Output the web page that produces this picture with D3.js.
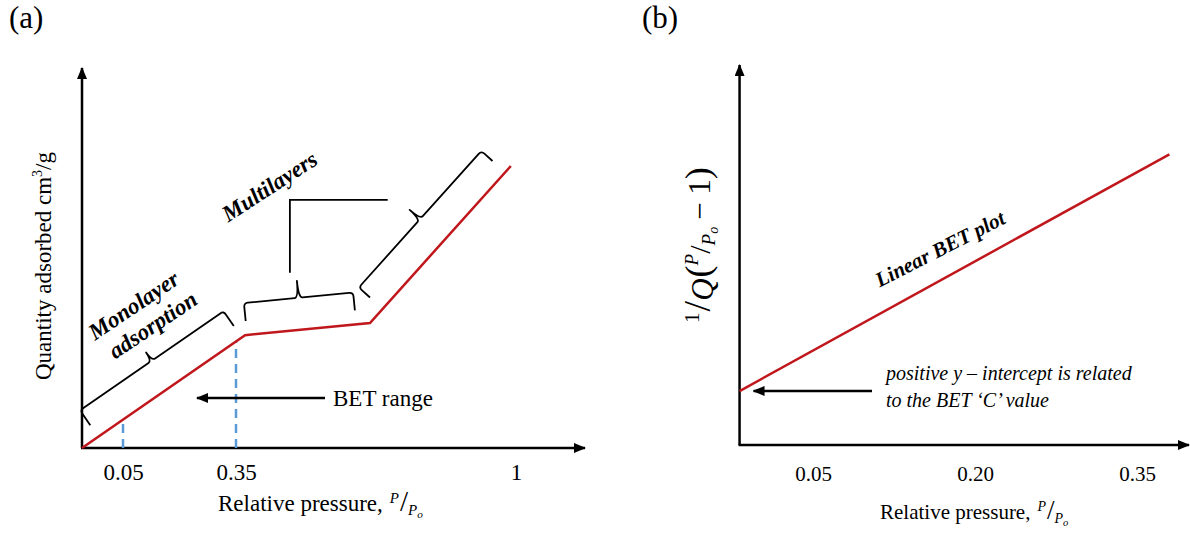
<!DOCTYPE html>
<html><head><meta charset="utf-8">
<script src="https://cdn.jsdelivr.net/npm/d3@7"></script>
<style>body{margin:0;background:#fff} svg{display:block}</style>
</head><body>
<svg id="c" width="1190" height="533"></svg>
<script>
// ---------- DATA ----------
// (a) Isotherm (schematic), relative pressure vs quantity adsorbed (arb. units)
const isoX = [0, 0.371, 0.661, 0.988];
const isoY = [0, 29.7, 32.9, 74.2];
const isoTickValues = [0.05, 0.35, 1];
const isoTickLabels = ["0.05", "0.35", "1"];
const betRangeMarks = [0.05, 0.35];
// braces along isotherm segments: segment index, start / end fraction
const braceSeg = [0, 1, 2];
const braceT0 = [0.10, 0.016, 0.09];
const braceT1 = [0.98, 0.89, 0.96];
// (b) Linear BET plot
const betX = [-0.018, 0.38];
const betY = [14.2, 76.5];
const betTickValues = [0.05, 0.20, 0.35];
const betTickLabels = ["0.05", "0.20", "0.35"];

// ---------- STYLE ----------
const RED = "#c0171d", BLUE = "#5b9bd5", INK = "#000";
const SERIF = "'Liberation Serif','Times New Roman',serif";
const braceOffset = [32, 32, 32], braceHook = [18, 18, 15], braceTip = [10, 17, 14];

const svg = d3.select("#c");
const defs = svg.append("defs");
defs.append("marker").attr("id", "ah").attr("viewBox", "0 0 12 10")
  .attr("refX", 11).attr("refY", 5).attr("markerWidth", 12).attr("markerHeight", 10)
  .attr("markerUnits", "userSpaceOnUse").attr("orient", "auto")
  .append("path").attr("d", "M0,0 L12,5 L0,10 Z").attr("fill", INK);

// ---------- PANEL A ----------
const xA = d3.scaleLinear().domain([0, 0.05, 0.35, 1]).range([82, 123, 236, 516]);
const yA = d3.scaleLinear().domain([0, 100]).range([448, 68]);
const gA = svg.append("g");

gA.append("text").attr("x", 9).attr("y", 28).attr("font-family", SERIF).attr("font-size", 31).text("(a)");

// axes
gA.append("line").attr("x1", xA(0)).attr("y1", yA(0)).attr("x2", xA(0)).attr("y2", yA(100))
  .attr("stroke", INK).attr("stroke-width", 2.5).attr("marker-end", "url(#ah)");
gA.append("line").attr("x1", xA(0) - 1).attr("y1", yA(0)).attr("x2", 585).attr("y2", yA(0))
  .attr("stroke", INK).attr("stroke-width", 2.5).attr("marker-end", "url(#ah)");

const axA = d3.axisBottom(xA).tickValues(isoTickValues).tickSize(0)
  .tickFormat((d, i) => isoTickLabels[i]);
const axAg = gA.append("g").attr("transform", `translate(0,${yA(0)})`).call(axA);
axAg.select(".domain").remove();
axAg.selectAll("text").attr("y", 32).attr("dy", 0).attr("font-family", SERIF)
  .attr("font-size", 23).attr("fill", INK);

// isotherm
const isoPts = isoX.map((x, i) => [xA(x), yA(isoY[i])]);
function yOnPoly(pts, px) {
  for (let i = 0; i < pts.length - 1; i++) {
    const [x0, y0] = pts[i], [x1, y1] = pts[i + 1];
    if (px >= x0 && px <= x1) return y0 + (y1 - y0) * (px - x0) / (x1 - x0);
  }
  return pts[pts.length - 1][1];
}
// dashed BET range marks
gA.selectAll(".dash").data(betRangeMarks).enter().append("line")
  .attr("x1", d => xA(d)).attr("x2", d => xA(d))
  .attr("y1", yA(0)).attr("y2", d => yOnPoly(isoPts, xA(d)))
  .attr("stroke", BLUE).attr("stroke-width", 2.5).attr("stroke-dasharray", "9,6");

gA.append("path").datum(isoX.map((x, i) => [x, isoY[i]]))
  .attr("d", d3.line().x(d => xA(d[0])).y(d => yA(d[1])))
  .attr("fill", "none").attr("stroke", RED).attr("stroke-width", 2.5);

// braces
function braceGeom(p0, p1, o, h, t) {
  const dx = p1[0] - p0[0], dy = p1[1] - p0[1], L = Math.hypot(dx, dy);
  const d = [dx / L, dy / L], n = [d[1], -d[0]];
  const P = (b, a, k) => [b[0] + a[0] * k, b[1] + a[1] * k];
  const A = P(p0, n, o), B = P(p1, n, o), M = [(A[0] + B[0]) / 2, (A[1] + B[1]) / 2];
  const r = 4;
  const a0 = P(A, n, -h), an = P(A, n, -r), a1 = P(A, d, r);
  const m0 = P(M, d, -r), m1 = P(M, d, r), T = P(M, n, t);
  const b1 = P(B, d, -r), bn = P(B, n, -r), b0 = P(B, n, -h);
  const f = p => p[0].toFixed(1) + "," + p[1].toFixed(1);
  const path = `M${f(a0)}L${f(an)}Q${f(A)} ${f(a1)}L${f(m0)}Q${f(M)} ${f(T)}Q${f(M)} ${f(m1)}L${f(b1)}Q${f(B)} ${f(bn)}L${f(b0)}`;
  return { path, T };
}
const tips = [];
braceSeg.forEach((s, i) => {
  const p = isoPts[s], q = isoPts[s + 1];
  const lerp = t => [p[0] + (q[0] - p[0]) * t, p[1] + (q[1] - p[1]) * t];
  const g = braceGeom(lerp(braceT0[i]), lerp(braceT1[i]), braceOffset[i], braceHook[i], braceTip[i]);
  tips.push(g.T);
  gA.append("path").attr("d", g.path).attr("fill", "none").attr("stroke", INK)
    .attr("stroke-width", 1.8).attr("stroke-linejoin", "round");
});
// connector between the two multilayer braces
{
  const tL = tips[1], tU = tips[2];
  const lvl = tU[1] - 10;
  gA.append("path").attr("d", `M${tL[0] - 7},${tL[1] - 8}V${lvl}H${tU[0] - 22}`)
    .attr("fill", "none").attr("stroke", INK).attr("stroke-width", 1.8);
}

// labels
const bi = sel => sel.attr("font-family", SERIF).attr("font-weight", "bold").attr("font-style", "italic");
const mono = gA.append("g").attr("transform", "translate(134,306) rotate(-34)");
bi(mono.append("text")).attr("x", 0).attr("y", 7).attr("text-anchor", "middle").attr("font-size", 23).text("Monolayer");
bi(mono.append("text")).attr("x", 5).attr("y", 34).attr("text-anchor", "middle").attr("font-size", 23).text("adsorption");
const multi = gA.append("g").attr("transform", "translate(270,187) rotate(-33)");
bi(multi.append("text")).attr("x", 0).attr("y", 7).attr("text-anchor", "middle").attr("font-size", 23).text("Multilayers");

// BET range arrow
gA.append("line").attr("x1", 325).attr("y1", 398).attr("x2", 197).attr("y2", 398)
  .attr("stroke", INK).attr("stroke-width", 2.5).attr("marker-end", "url(#ah)");
gA.append("text").attr("x", 333).attr("y", 406).attr("font-family", SERIF).attr("font-size", 23).text("BET range");

// axis titles
gA.append("text").attr("transform", "translate(51,266) rotate(-90)").attr("text-anchor", "middle")
  .attr("font-family", SERIF).attr("font-size", 23)
  .call(t => { t.append("tspan").text("Quantity adsorbed cm");
               t.append("tspan").attr("font-size", 14).attr("dy", -9).text("3");
               t.append("tspan").attr("dy", 9).text("/g"); });

function ppo(t, big, sup) {
  t.append("tspan").attr("dx", 7).attr("dy", -8).attr("font-size", sup).attr("font-style", "italic").text("P");
  t.append("tspan").attr("dx", 1).attr("dy", 8).attr("font-size", big).text("/");
  t.append("tspan").attr("dx", 0).attr("dy", 4).attr("font-size", sup).attr("font-style", "italic").text("P");
  t.append("tspan").attr("dy", 3).attr("font-size", sup * 0.75).attr("font-style", "italic").text("o");
}
gA.append("text").attr("x", 218).attr("y", 511).attr("font-family", SERIF).attr("font-size", 23)
  .call(t => { t.append("tspan").text("Relative pressure,"); ppo(t, 29, 15); });

// ---------- PANEL B ----------
const xB = d3.scaleLinear().domain([0.05, 0.35]).range([813, 1137]);
const yB = d3.scaleLinear().domain([0, 100]).range([445, 65]);
const gB = svg.append("g");
gB.append("text").attr("x", 642).attr("y", 28).attr("font-family", SERIF).attr("font-size", 31).text("(b)");

const x0B = xB(betX[0]);
gB.append("line").attr("x1", x0B).attr("y1", yB(0)).attr("x2", x0B).attr("y2", yB(100))
  .attr("stroke", INK).attr("stroke-width", 2.5).attr("marker-end", "url(#ah)");
gB.append("line").attr("x1", x0B - 1).attr("y1", yB(0)).attr("x2", 1189).attr("y2", yB(0))
  .attr("stroke", INK).attr("stroke-width", 2.5).attr("marker-end", "url(#ah)");

const axB = d3.axisBottom(xB).tickValues(betTickValues).tickSize(0)
  .tickFormat((d, i) => betTickLabels[i]);
const axBg = gB.append("g").attr("transform", `translate(0,${yB(0)})`).call(axB);
axBg.select(".domain").remove();
axBg.selectAll("text").attr("y", 36).attr("dy", 0).attr("font-family", SERIF)
  .attr("font-size", 21).attr("fill", INK);

gB.append("path").datum(betX.map((x, i) => [x, betY[i]]))
  .attr("d", d3.line().x(d => xB(d[0])).y(d => yB(d[1])))
  .attr("fill", "none").attr("stroke", RED).attr("stroke-width", 2.5);

const lin = gB.append("g").attr("transform", "translate(940,249) rotate(-27)");
bi(lin.append("text")).attr("x", 0).attr("y", 7).attr("text-anchor", "middle").attr("font-size", 21).text("Linear BET plot");

// intercept arrow
const yi = yB(betY[0]);
gB.append("line").attr("x1", 872).attr("y1", yi).attr("x2", x0B + 14).attr("y2", yi)
  .attr("stroke", INK).attr("stroke-width", 2.5).attr("marker-end", "url(#ah)");
gB.append("text").attr("x", 886).attr("y", 380).attr("font-family", SERIF).attr("font-style", "italic")
  .attr("font-size", 20).text("positive y – intercept is related");
gB.append("text").attr("x", 886).attr("y", 407).attr("font-family", SERIF).attr("font-style", "italic")
  .attr("font-size", 20).text("to the BET ‘C’ value");

gB.append("text").attr("x", 880).attr("y", 519).attr("font-family", SERIF).attr("font-size", 21)
  .call(t => { t.append("tspan").text("Relative pressure,"); ppo(t, 27, 14); });

// y label 1/Q(P/Po - 1)
gB.append("text").attr("transform", "translate(710,245) rotate(-90)").attr("text-anchor", "middle")
  .attr("font-family", SERIF).attr("font-size", 31)
  .call(t => {
    t.append("tspan").attr("font-size", 21).attr("dy", -11).text("1");
    t.append("tspan").attr("font-size", 38).attr("dx", 1).attr("dy", 11).text("/");
    t.append("tspan").attr("font-style", "italic").attr("dy", 3).text("Q");
    t.append("tspan").attr("dy", -3).attr("dx", 1).attr("font-size", 36).text("(");
    t.append("tspan").attr("font-size", 19).attr("font-style", "italic").attr("dy", -12).text("P");
    t.append("tspan").attr("font-size", 30).attr("dy", 12).text("/");
    t.append("tspan").attr("font-size", 19).attr("font-style", "italic").attr("dy", 5).text("P");
    t.append("tspan").attr("font-size", 14).attr("font-style", "italic").attr("dy", 3).text("o");
    t.append("tspan").attr("dy", -8).attr("dx", 7).text("− 1");
    t.append("tspan").attr("font-size", 36).text(")");
  });
</script>
</body></html>
